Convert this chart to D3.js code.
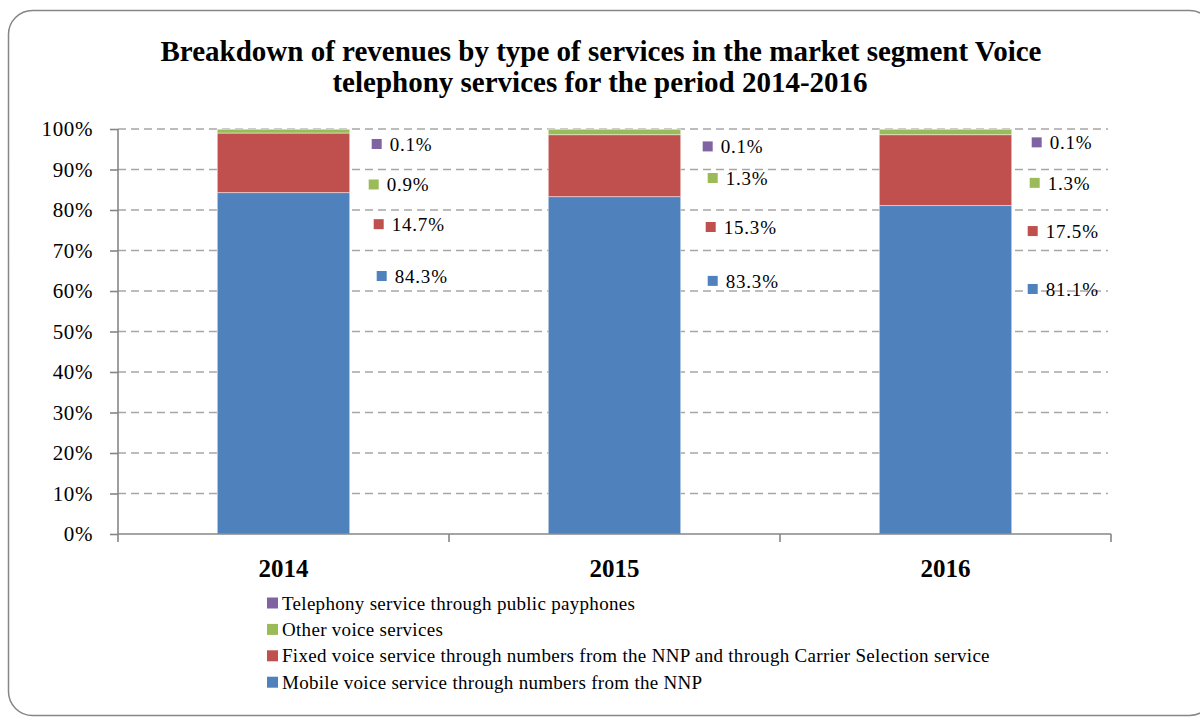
<!DOCTYPE html>
<html>
<head>
<meta charset="utf-8">
<script src="https://cdn.jsdelivr.net/npm/d3@7"></script>
<style>
  html, body { margin: 0; padding: 0; background: #fff; }
  svg { display: block; font-family: "Liberation Serif", "Times New Roman", serif; }
</style>
</head>
<body>
<svg id="chart" width="1200" height="717"></svg>
<script>
// Revenue shares (%) by service type, per year
const years = ["2014", "2015", "2016"];
const seriesNames = [
  "Mobile voice service through numbers from the NNP",
  "Fixed voice service through numbers from the NNP and through Carrier Selection service",
  "Other voice services",
  "Telephony service through public payphones"
];
const mobile   = [84.3, 83.3, 81.1];
const fixed    = [14.7, 15.3, 17.5];
const other    = [0.9, 1.3, 1.3];
const payphone = [0.1, 0.1, 0.1];
const yTicks = [0, 10, 20, 30, 40, 50, 60, 70, 80, 90, 100];

const colors = ["#4F81BD", "#C0504D", "#9BBB59", "#8064A2"];

// Placement of the value labels beside each bar: horizontal gap from the bar (px)
// and vertical anchor expressed on the percentage scale, per series then per year.
const labelGap = [[27, 27, 16], [24, 25, 16], [19, 27, 18], [22, 22, 20]];
const labelAt  = [[63.7, 62.5, 60.5], [76.5, 75.8, 74.8], [86.3, 87.9, 86.7], [96.3, 95.7, 96.7]];

const svg = d3.select("#chart");

// outer frame with rounded corners
svg.append("rect")
  .attr("x", 8.5).attr("y", 10.5)
  .attr("width", 1205).attr("height", 705)
  .attr("rx", 24).attr("ry", 24)
  .attr("fill", "#fff")
  .attr("stroke", "#868686").attr("stroke-width", 1.5);

// title
const title = svg.append("text")
  .attr("text-anchor", "middle")
  .attr("font-weight", "bold")
  .attr("font-size", 29)
  .attr("fill", "#000");
title.append("tspan").attr("x", 601).attr("y", 61)
  .text("Breakdown of revenues by type of services in the market segment Voice");
title.append("tspan").attr("x", 600).attr("y", 92)
  .text("telephony services for the period 2014-2016");

const plot = { left: 118, right: 1111, top: 129, bottom: 534 };

const x = d3.scaleBand()
  .domain(years)
  .range([plot.left, plot.right])
  .paddingInner(0.6)
  .paddingOuter(0.3);

const y = d3.scaleLinear()
  .domain([0, 100])
  .range([plot.bottom, plot.top]);

// dashed gridlines
svg.append("g")
  .selectAll("line")
  .data(yTicks.filter(t => t > 0))
  .join("line")
  .attr("x1", plot.left).attr("x2", plot.right - 3)
  .attr("y1", d => y(d)).attr("y2", d => y(d))
  .attr("stroke", "#A6A6A6")
  .attr("stroke-width", 1.6)
  .attr("stroke-dasharray", "8,5");

// y axis
const yAxis = svg.append("g")
  .attr("transform", `translate(${plot.left},0)`)
  .call(d3.axisLeft(y).tickValues(yTicks).tickSize(8).tickPadding(17)
    .tickFormat(d => d + "%"));
yAxis.select(".domain").attr("stroke", "#868686").attr("stroke-width", 1.6)
  .attr("d", `M0,${plot.top}V${plot.bottom}`);
yAxis.selectAll(".tick line").attr("stroke", "#868686").attr("stroke-width", 1.6);
yAxis.selectAll(".tick text")
  .attr("font-family", "Liberation Serif, Times New Roman, serif")
  .attr("font-size", 21)
  .attr("letter-spacing", 0.6)
  .attr("fill", "#000");

// stacked data
const table = years.map((yr, i) => ({
  year: yr, s0: mobile[i], s1: fixed[i], s2: other[i], s3: payphone[i]
}));
const stack = d3.stack().keys(["s0", "s1", "s2", "s3"]);
const stacked = stack(table);

// bars
svg.append("g")
  .selectAll("g")
  .data(stacked)
  .join("g")
  .attr("fill", (d, i) => colors[i])
  .selectAll("rect")
  .data(d => d)
  .join("rect")
  .attr("x", d => x(d.data.year))
  .attr("width", x.bandwidth())
  .attr("y", d => y(d[1]))
  .attr("height", d => y(d[0]) - y(d[1]))
  .attr("stroke", "rgba(255,255,255,0.45)")
  .attr("stroke-width", 1);

// x axis line with category separators
const xAxisG = svg.append("g");
xAxisG.append("line")
  .attr("x1", plot.left).attr("x2", plot.right)
  .attr("y1", plot.bottom).attr("y2", plot.bottom)
  .attr("stroke", "#868686").attr("stroke-width", 1.6);
const bounds = [plot.left].concat(years.map(yr => x(yr) + x.bandwidth() + x.step() * 0.3));
xAxisG.selectAll("line.sep")
  .data(bounds)
  .join("line")
  .attr("class", "sep")
  .attr("x1", d => d).attr("x2", d => d)
  .attr("y1", plot.bottom).attr("y2", plot.bottom + 8)
  .attr("stroke", "#868686").attr("stroke-width", 1.6);
xAxisG.selectAll("text")
  .data(years)
  .join("text")
  .attr("x", d => x(d) + x.bandwidth() / 2)
  .attr("y", 577)
  .attr("text-anchor", "middle")
  .attr("font-weight", "bold")
  .attr("font-size", 25)
  .attr("fill", "#000")
  .text(d => d);

// value labels with colour keys
const valueSeries = [mobile, fixed, other, payphone];
const labels = [];
valueSeries.forEach((vals, s) => {
  vals.forEach((v, i) => {
    labels.push({ s, i, v, gap: labelGap[s][i], at: labelAt[s][i] });
  });
});
const lab = svg.append("g").selectAll("g")
  .data(labels)
  .join("g")
  .attr("transform", d => `translate(${x(years[d.i]) + x.bandwidth() + d.gap},${y(d.at)})`);
lab.append("rect")
  .attr("x", 0).attr("y", -5)
  .attr("width", 10).attr("height", 10)
  .attr("fill", d => colors[d.s]);
lab.append("text")
  .attr("x", 18).attr("y", 7)
  .attr("font-size", 19)
  .attr("letter-spacing", 0.8)
  .attr("fill", "#000")
  .text(d => d.v.toFixed(1) + "%");

// legend (top entry is the last stacked series)
const legendOrder = [3, 2, 1, 0];
const leg = svg.append("g").selectAll("g")
  .data(legendOrder)
  .join("g")
  .attr("transform", (d, k) => `translate(267,${603 + k * 26.4})`);
leg.append("rect")
  .attr("x", 0).attr("y", -5.5)
  .attr("width", 11).attr("height", 11)
  .attr("fill", d => colors[d]);
leg.append("text")
  .attr("x", 15).attr("y", 6.5)
  .attr("font-size", 19)
  .attr("letter-spacing", 0.3)
  .attr("fill", "#000")
  .text(d => seriesNames[d]);
</script>
</body>
</html>
